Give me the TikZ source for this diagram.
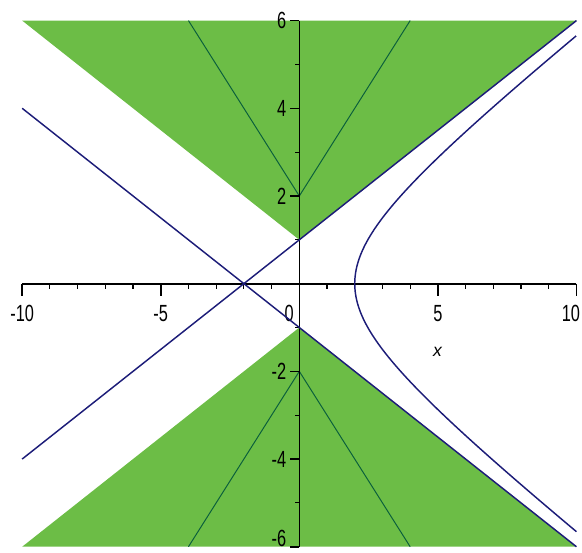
\documentclass[tikz,border=0pt]{standalone}
\usepackage{amsmath, amssymb}
\usepackage{fontspec}
\setmainfont{Liberation Sans}
\usepackage{xcolor}
\usepackage{tikz}
\usetikzlibrary{calc}

\definecolor{mienxanh}{RGB}{108,189,70}
\definecolor{xanhdam}{RGB}{28,28,120}
\definecolor{xanhla}{RGB}{10,95,60}
\newcommand{\nhan}[1]{\scalebox{0.7}[1]{\fontsize{12}{12}\selectfont #1}}

\begin{document}
\begin{tikzpicture}[>=latex, x=0.5cm, y=0.791cm]
    \useasboundingbox (-10.8,-6.14) rectangle (10.2,6.47);
    % 1. Tô miền nghiệm
    \fill[mienxanh] (-10,6) -- (0,1) -- (10,6) -- cycle;
    \fill[mienxanh] (-10,-6) -- (0,-1) -- (10,-6) -- cycle;
    
    % 2. Các đường y = 2+|x| và y = -2-|x|
    \draw[xanhla, line width=0.5pt] (-4,6) -- (0,2) -- (4,6);
    \draw[xanhla, line width=0.5pt] (-4,-6) -- (0,-2) -- (4,-6);
    
    % 3. Hệ trục tọa độ
    \draw[line width=1pt] (-10,0) -- (10,0);
    \draw[line width=0.8pt] (0,-6) -- (0,6);
    \foreach \i in {-10,-5,0,5,10}
        \draw[line width=0.8pt] (\i,0) -- ++(0,-0.22cm);
    \foreach \i in {-9,-8,-7,-6,-4,-3,-2,-1,1,2,3,4,6,7,8,9}
        \draw[line width=0.6pt] (\i,0) -- ++(0,-0.09cm);
    \foreach \j in {-6,-4,-2,2,4,6}
        \draw[line width=0.8pt] (0,\j) -- ++(-0.16cm,0);
    \foreach \j in {-5,-3,-1,1,3,5}
        \draw[line width=0.6pt] (0,\j) -- ++(-0.07cm,0);
    \foreach \i in {-10,-5,5}
        \node (tx\i) at (\i,-0.69) {\nhan{\i}};
    \node (tx0) at (-0.37,-0.69) {\nhan{0}};
    \node (tx10) at (9.8,-0.69) {\nhan{10}};
    \foreach \j in {-4,-2,2,4,6}
        \node[anchor=east, inner sep=0pt] (ty\j) at ($(0,\j)+(-0.23cm,0)$) {\nhan{\j}};
    \node[anchor=east, inner sep=0pt] (ty-6) at ($(0,-5.82)+(-0.23cm,0)$) {\nhan{-6}};
    \node (nx) at (5,-1.56) {\fontsize{9}{9}\selectfont\textit{x}};
    
    % 4. Hai đường tiệm cận y = x/2+1, y = -x/2-1
    \draw[xanhdam, line width=0.75pt] (-10,-4) -- (10,6);
    \draw[xanhdam, line width=0.75pt] (-10,4) -- (10,-6);
    
    % 5. Nhánh hypebol (x+2)^2/16 - y^2/4 = 1
    \draw[xanhdam, line width=0.75pt, samples=120, domain=-1.7627:1.7627]
        plot ({-2+4*cosh(\x)}, {2*sinh(\x)});
\end{tikzpicture}
\end{document}
